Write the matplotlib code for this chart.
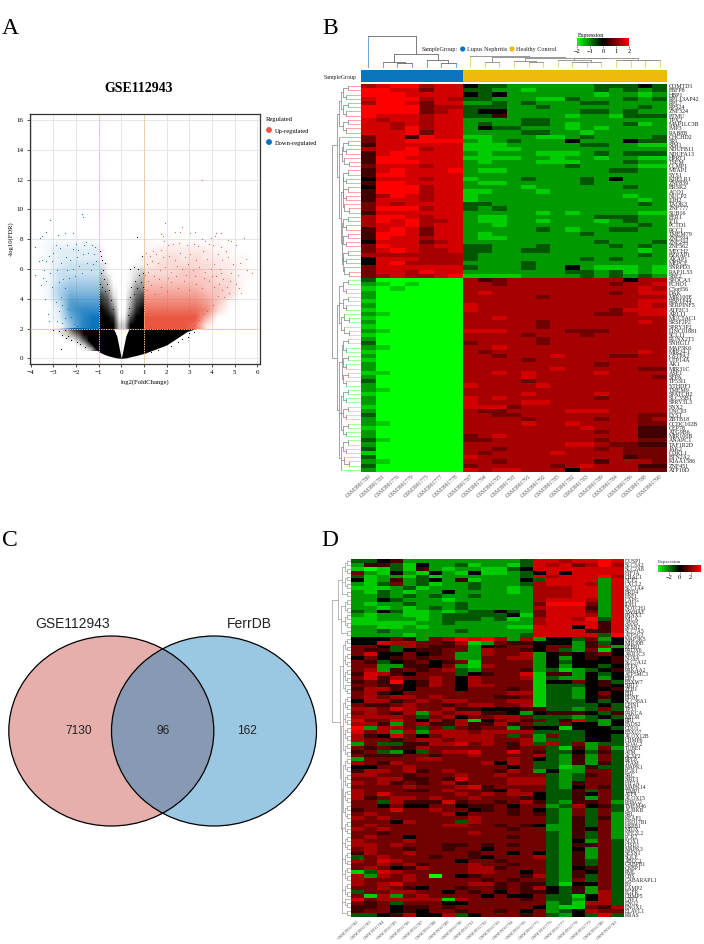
# -*- coding: utf-8 -*-
"""Four panel figure: volcano plot, two expression heatmaps and a Venn diagram."""
import matplotlib
matplotlib.use("Agg")
import matplotlib.pyplot as plt
import numpy as np
from matplotlib.colors import LinearSegmentedColormap, to_rgb
from matplotlib.patches import Ellipse

W, H = 704, 944
SERIF = "Liberation Serif"
SANS = "Liberation Sans"
RED = "#EA5640"
BLUE = "#0A74BC"
YELLOW = "#EEBB0C"

plt.rcParams["font.family"] = SERIF

# ---------------------------------------------------------------- volcano data
# solid black core of the V: x, lower edge, upper edge
black_left_x = [-1.5, -1.0, -0.8, -0.6, -0.4, -0.2, 0.0]
black_left_lo = [1.25, 0.45, 0.3, 0.18, 0.1, 0.03, 0.0]
black_left_hi = [2.0, 2.5, 2.5, 2.4, 2.2, 1.5, 0.0]
black_right_x = [0.0, 0.2, 0.4, 0.6, 0.8, 1.0, 1.01, 2.0, 2.9, 3.3]
black_right_lo = [0.0, 0.03, 0.1, 0.17, 0.25, 0.33, 0.33, 0.9, 1.8, 2.0]
black_right_hi = [0.0, 1.5, 2.2, 2.4, 2.5, 2.5, 2.0, 2.0, 2.0, 2.0]

# how crowded each part of the cloud looks, 0 empty to 9 solid, top row first
up_density = [  # x 1 to 6, y 9 to 2, half unit cells
    "0000000000", "0000000000", "1011101000", "1222221100", "2232322110",
    "2333332210", "3334433211", "4444443310", "5555544310", "6666654300",
    "7777764100", "8888873000", "9999950000", "9999820000",
]
down_density = [  # x -4 to -1, y 9 to 2
    "000000", "000000", "011111", "012222", "012222", "012333", "013333",
    "013444", "014555", "014666", "003777", "002788", "002689", "000589",
]
arm_density = [  # x -1 to 1, y 8 to 2, quarter and half unit cells
    "00000000", "10000000", "10000001", "21000011", "31000123", "43000134",
    "54100255", "76200367", "87400478", "98600589", "99811799", "99933999",
]
wing_density = [  # x -3 to -1, y 2 to 0.5, quarter unit cells
    "12478999", "02357999", "00235899", "00113699", "00001379", "00000138",
]

# single points that stand out of the cloud
up_points = [
    (3.54, 11.97), (1.93, 9.1), (2.7, 8.8), (1.73, 8.35), (1.85, 8.2), (2.35, 8.5), (2.6, 8.45),
    (3.05, 8.4), (3.25, 8.5), (3.95, 8.1), (4.2, 8.4), (4.4, 8.4), (4.15, 8.2), (5.4, 8.1),
    (4.7, 7.95), (4.85, 7.9), (3.55, 8.0), (3.7, 7.9), (1.9, 7.9), (2.05, 7.6), (2.3, 7.7),
    (2.55, 7.75), (2.9, 7.6), (3.2, 7.7), (3.4, 7.55), (3.85, 7.7), (4.05, 7.6), (4.4, 7.5),
    (4.6, 7.2), (5.05, 7.6), (5.5, 6.7), (5.25, 6.4), (5.55, 5.9), (5.75, 5.7), (5.15, 5.6),
    (5.05, 5.0), (5.2, 4.7), (5.3, 4.4), (4.8, 5.2), (4.85, 5.7), (4.95, 6.3), (4.7, 6.8),
    (4.45, 6.6), (4.25, 7.0), (1.1, 7.1), (1.25, 6.9), (1.4, 7.2), (1.55, 7.0), (1.75, 7.3),
    (1.15, 6.3), (1.35, 6.5), (1.6, 6.4), (1.85, 6.8), (2.1, 6.9), (2.35, 6.6), (2.6, 7.1),
    (2.8, 6.8), (3.05, 7.0), (3.3, 6.6), (3.6, 7.2), (3.8, 6.7), (4.1, 6.3), (4.35, 6.0),
    (1.05, 5.6), (1.2, 5.8), (1.45, 5.5), (1.7, 5.9), (1.95, 6.1), (2.2, 5.8), (2.45, 6.2),
    (2.7, 6.0), (2.95, 6.3), (3.15, 5.9), (3.45, 6.1), (3.7, 5.8), (3.95, 6.0), (4.2, 5.5),
    (4.5, 5.3), (4.65, 4.8), (4.45, 4.6), (4.25, 4.2), (4.55, 4.1), (4.05, 3.6), (3.8, 3.2),
    (4.75, 4.4), (3.45, 2.6), (3.2, 2.25), (3.35, 2.9), (3.6, 3.0), (1.12, 4.6), (1.3, 4.9),
    (1.5, 4.3), (1.75, 4.8), (2.0, 4.5), (2.2, 5.1), (2.5, 4.7), (2.75, 5.2), (3.0, 4.6),
    (3.3, 5.0), (3.55, 4.7), (3.85, 5.2), (4.1, 4.8), (1.2, 5.2), (1.65, 5.3), (2.05, 5.4),
    (2.4, 5.5), (2.85, 5.6), (3.25, 5.5), (3.65, 5.4), (4.0, 5.5), (4.3, 5.0), (4.4, 5.7),
]
down_points = [
    (-3.15, 9.3), (-1.75, 9.7), (-1.7, 9.5), (-3.3, 8.5), (-3.5, 8.2), (-3.6, 8.1), (-2.5, 8.4),
    (-2.8, 8.3), (-2.15, 8.4), (-3.8, 7.5), (-2.9, 7.6), (-2.7, 7.4), (-2.4, 7.6), (-2.0, 7.7),
    (-1.55, 7.8), (-1.65, 7.6), (-1.3, 7.6), (-1.15, 7.5), (-1.9, 7.3), (-2.15, 7.35), (-3.0, 7.1),
    (-3.2, 6.9), (-3.5, 6.6), (-3.65, 6.5), (-3.3, 6.5), (-3.05, 6.5), (-3.8, 5.6), (-3.4, 5.9),
    (-3.45, 5.4), (-3.15, 5.7), (-3.3, 5.2), (-3.55, 4.9), (-3.05, 4.8), (-3.35, 4.0), (-3.25, 3.0),
    (-3.2, 2.5), (-2.85, 2.5), (-2.6, 2.35), (-2.5, 2.7), (-2.75, 3.2), (-2.9, 3.8), (-2.65, 4.1),
    (-2.75, 5.1), (-2.85, 5.9), (-2.65, 6.4), (-2.45, 6.8), (-2.25, 6.6), (-1.95, 6.8), (-1.7, 7.0),
    (-1.45, 7.1), (-1.2, 7.0), (-2.4, 5.9), (-2.15, 6.0), (-1.85, 6.2), (-1.5, 6.4), (-1.25, 6.3),
    (-2.55, 5.3), (-2.5, 4.7), (-2.6, 3.6), (-2.35, 3.3), (-2.2, 2.8), (-2.1, 2.3), (-1.95, 2.15),
    (-2.3, 5.4), (-2.05, 5.5), (-1.75, 5.7), (-1.35, 5.9), (-1.1, 6.5),
]
ns_points = [
    (0.7, 8.15), (0.9, 6.9), (-0.95, 7.2), (-0.9, 6.9), (-0.85, 6.6), (-0.8, 5.9), (-0.72, 6.4),
    (-0.9, 5.7), (-0.75, 5.3), (-0.65, 5.0), (-0.95, 5.0), (-0.85, 4.8), (-0.55, 4.6), (-0.7, 4.5),
    (-0.45, 3.9), (-0.35, 3.3), (0.4, 6.0), (0.55, 6.1), (0.72, 6.0), (0.8, 5.6), (0.95, 5.7),
    (0.6, 5.2), (0.85, 5.1), (0.45, 4.8), (0.7, 4.7), (0.95, 4.8), (0.4, 4.1), (0.55, 4.3),
    (0.35, 3.4), (0.3, 2.9), (-2.6, 1.6), (-2.75, 1.85), (-2.5, 1.9), (-2.35, 1.5), (-2.2, 1.2),
    (-2.45, 1.35), (-2.65, 0.65), (-1.95, 1.1), (-1.8, 0.95), (-1.6, 0.75), (-3.0, 1.9), (2.95, 1.4),
    (3.0, 1.7), (3.2, 1.8), (3.1, 1.95), (2.2, 0.85), (2.5, 1.1), (2.7, 1.3), (1.6, 0.55), (1.3, 0.45),
]
volcano_xticks = [-4, -3, -2, -1, 0, 1, 2, 3, 4, 5, 6]
volcano_yticks = [0, 2, 4, 6, 8, 10, 12, 14, 16]

# ---------------------------------------------------------------- heatmap B
# one digit per cell, see LEVELS
LEVELS = [-2.0, -1.6, -1.2, -0.7, 0.0, 0.5, 0.9, 1.3, 1.65, 2.0]

b_rows = [
    "7899788 4332222 2233343", "9988688 3322122 2232323", "9998888 4342222 2212212",
    "8999787 3322211 3222323", "7998688 2232322 2332222", "9999677 3332232 2222232",
    "9999678 3442222 2332322", "9888788 3352222 1221333", "8788788 2222332 2222222",
    "8878788 2322332 1222312", "8879788 2433222 1212222", "8889688 2222332 2122222",
    "6885988 1122211 2322223", "6889999 2123222 4222433", "5888888 1112222 2332211",
    "7889788 1111222 2222222", "5899888 2122211 1232333", "5998888 1111221 2212211",
    "5999888 2122211 1222322", "6888788 2222222 3222211", "5898889 2112222 2223322",
    "5998888 2222222 2222222", "4888788 1222322 2324222", "5998888 2112222 2322222",
    "4999788 2222122 2222322", "5999788 1122212 2222222", "5798788 1222222 2222122",
    "5888788 1222222 2222212", "6878888 3322222 2222232", "6999788 3232222 2222222",
    "5888888 2222212 1222211", "7998788 2112222 2233322", "7989778 2112212 2212322",
    "7889788 2212222 2222232", "5898688 2222232 1223322", "5998688 2122222 2322222",
    "5988788 2112222 2222222", "4888678 2222222 2232223", "6988788 3322232 2223232",
    "6898778 3322332 2222212", "7777777 3222222 2222232", "4888777 3222222 2323222",
    "4897777 2222322 2222222", "6888888 3222322 4211121", "6887988 2222222 3323121",
    "6787789 1111222 2323232",
    "3000000 7567777 7777477", "2101000 7767777 7776778", "1010000 7777777 7777787",
    "2000000 7877777 7776788", "2000000 7777767 7777777", "1000000 7777777 7777788",
    "2000000 8777777 7777787", "1000000 8777777 7776888", "2100000 7777777 7766788",
    "1000000 7787777 7777777", "2000000 7777767 7777787", "1000000 7777767 7777777",
    "2100000 8887777 6667777", "1000000 7777677 7677777", "2000000 7777767 7777777",
    "3000000 6777767 7777777", "2100000 7787777 7777777", "1000000 7677777 7777787",
    "2000000 7767778 7776677", "1000000 7777677 7777777", "2000000 7777777 7767777",
    "2000000 7777778 7777766", "1100000 7787877 7787777", "2000000 7777877 7777776",
    "3000000 7777677 7777777", "2000000 8777787 7777777", "2100000 7777777 7777777",
    "1000000 7777877 7787777", "2000000 8787777 7767777", "2000000 8777887 7777777",
    "1000000 8886777 7777777", "2000000 7667777 8887777", "3000000 7766777 7777766",
    "2000000 7777677 7767767", "2100000 7777877 8777766", "1000000 7777777 7877755",
    "2000000 7777777 7767755", "2000000 6787777 7777755", "3100000 6677777 7767766",
    "2000000 7777777 8876655", "3000000 7767777 7767666", "1000000 7677778 7777666",
    "3000000 8777777 7777566", "2100000 7767777 7757776", "3000000 6777776 7877755",
    "2000000 8788777 4777766",
]
b_samples = ["GSM3991780", "GSM3991781", "GSM3991776", "GSM3991779", "GSM3991775", "GSM3991777",
             "GSM3991778", "GSM3991787", "GSM3991794", "GSM3991795", "GSM3991793", "GSM3991791",
             "GSM3991792", "GSM3991785", "GSM3991782", "GSM3991783", "GSM3991789", "GSM3991784",
             "GSM3991786", "GSM3991788", "GSM3991790"]
b_genes = ["COMTD1", "FBFP8", "HBP1", "RPL13AP42", "RPL7", "RPS24", "ZNF324", "PTMU", "TPX2",
           "MAP1LC3B", "IMP3", "RAB8B", "CHCHD2", "SRL", "SIM1", "NDUFB11", "NDUFA13", "HPRT1",
           "TSEM", "CLMP1", "MTAP1", "SYS1", "KDELR1", "ZNF839", "BRSK2", "ACO1", "NUCP2", "IDH2",
           "TAOK3", "ZNF777", "SUB16", "FER1", "IFI1", "PCTD1", "RCC1", "TMEM79", "ZNF594",
           "ZNF244", "ZNF562", "MTCH2", "BZRAP1", "AKAP1", "MEPCE", "SNRPD3", "RAP1L53", "SBE2",
           "SPOCA3", "FCHO1", "C5orf56", "DAK", "MIR100E", "RBP1P44", "SERPINF5", "ATP2C1",
           "ARL11", "MUC5AC1", "SRSF2P2", "SPRY3P2", "LINC01881", "SCL11", "RUNX2T1", "SNHG1J",
           "MAP3K6", "MIR24-1", "GSTPA2", "UTP14A", "AK1", "MIR31C", "ASE1", "SFPA", "TP53I1",
           "YTHDF1", "TMEM9", "SPATCH2", "SLC35B1", "SPRY3L3", "SNX2", "UNC93", "LYST", "ZBTB18",
           "CCDC102B", "CEP78", "ATG9B6", "MIR100B", "ANAPC1", "TAF1R2D", "JAK2", "CDKL1",
           "BTN2A2", "KIAA1586", "ZNF451", "ATP10D"]

# ---------------------------------------------------------------- heatmap D
d_rows = [
    "3345222 2222223 8878898", "2553142 2312213 8786797", "1013152 1221134 8888888",
    "6214214 2141123 4848888", "3122131 2222223 8788897", "4125234 2512224 3888828",
    "2136231 2232223 7888728", "1112312 2232212 7778828", "2132122 4222212 7778828",
    "2232323 2232222 7778828", "2243222 1222222 7888728", "2122322 2322222 6999628",
    "2212123 2322222 7888528", "3243112 1233432 6888628", "2122112 3333341 6888728",
    "1122212 3332312 7887938", "1111122 3222222 7888858", "2211212 2222211 8884858",
    "2232222 2322222 8888558", "2222122 2222223 8888839",
    "4446526 7989727 2443624", "4487766 5712655 4442534", "6643765 5624566 4662572",
    "6553455 6627665 4632614", "6844645 6227667 2454564", "4645656 6226677 2424545",
    "6534564 5616666 2434445", "6622554 6217666 2424434", "6725656 7326665 2312345",
    "5875466 6345668 1552434", "6857667 6476667 1322424", "5659457 6476666 1446453",
    "6655457 6477666 1333454", "5775466 6466656 1332445", "6754666 6666677 1332464",
    "6767767 6666556 1332454", "4775676 7766677 1333434", "6556766 5677667 1333343",
    "7768766 7554445 5332363", "6765727 6775542 4555435", "7777636 7466776 3332343",
    "8668647 5714675 6358324", "7752675 5755756 3364424", "9277636 3656625 4414443",
    "8672727 7767777 3333444", "7548646 7777636 2633443", "7665677 6777667 2333443",
    "2633557 7867657 3736233", "6565576 6666656 6315262", "5632436 7786686 5334353",
    "6555665 6676666 7325263", "2666677 6666676 4325263", "7657666 6667476 3325253",
    "4466766 6666646 3312533", "5776756 7666576 2422663", "7766566 6766766 6323563",
    "6677556 5866677 7323663", "7675656 7566677 7325663", "6666766 6785666 6324653",
    "7666556 7665476 6335363", "7686666 6767677 4335463", "7567767 6676665 4335263",
    "6637555 8566567 5325562", "6646446 6455646 6237453", "5668667 6645656 4326363",
    "6766666 7466656 5326362", "7676666 6676666 6325352", "6664766 6376666 6325362",
    "6766666 7766565 4225362", "7676666 6666656 6225462", "6656666 6676666 6325362",
    "6766466 6666656 6325362", "7666766 6666666 6324263", "7767666 5565656 6325563",
    "6766566 5664666 6324263", "5766766 6656646 4325263", "3676665 6654666 7325263",
    "7687666 6466566 6325363", "6676756 6676656 6325363", "6764576 6677566 6324563",
    "1387666 6677664 6325463", "7276760 6456665 7325363", "7666766 6665656 6326363",
    "7678666 6677565 5314463", "6676546 6566565 7435263", "3667766 4656465 5435273",
    "6172676 6664644 6331473", "8677777 1766665 6332473", "6563666 4466666 6231773",
    "5564556 5666666 4211657", "5664546 6566564 6234766", "3345744 7346665 6324383",
]
d_samples = ["GSM3991782", "GSM3991783", "GSM3991784", "GSM3991785", "GSM3991786", "GSM3991787",
             "GSM3991788", "GSM3991789", "GSM3991790", "GSM3991791", "GSM3991792", "GSM3991793",
             "GSM3991794", "GSM3991795", "GSM3991775", "GSM3991776", "GSM3991777", "GSM3991778",
             "GSM3991779", "GSM3991780", "GSM3991781"]
d_genes = ["DUSP1", "SLC3A2", "SLC2A8", "HIF1A", "CHAC1", "NCF2", "CXCL2", "SLC1A4", "BRD4", "HSF1",
           "CAPG", "IDH1", "NOTCH1", "YWHAE", "PANX1", "MICA", "ASNS", "SESN2", "SLC7A5", "ATP5G3",
           "MAP3K5", "MIR30B", "PTBP1", "PRDX6", "AKR1C3", "NOX4", "SLC7A12", "PTEN", "PRKAA2",
           "ATP5MC3", "EIF1", "FBXW7", "SIRT1", "ZEB1", "BID", "BDNF", "SLC38A1", "LPIN1", "TP53",
           "PRKCA", "MTOR", "RB1", "FADS2", "CDO1", "FBXO7", "ALOX12B",
           "CHMP6", "VDAC2", "TUBE1", "ATM", "ACSF2", "RPL8", "TFAM", "MAPK1", "PGK1",
           "SRC", "SIRT3", "HIF2A", "MAPK14", "TIMP1", "ATF4", "ALOX15", "PHKG2",
           "TMEM46", "AURKB", "SRL", "KEAP1", "HSD17B1", "HSPB1", "MIOX", "NFE2L2", "PCK2",
           "NOX1", "CISD1", "MAPK3", "SESN1", "SQLE", "ABCC1", "GABPB1", "OSBP1", "PML", "CBS",
           "GABARAPL1", "FH", "LAMP2", "EGFR", "CHMP5", "CAV1", "ENO2", "ENOX1", "ELAVL1", "KRAS"]

venn_names = ["GSE112943", "FerrDB"]
venn_counts = [7130, 96, 162]

CMAP = LinearSegmentedColormap.from_list("gbr", ["#00FF00", "#000000", "#FF0000"])


# ---------------------------------------------------------------- helpers
def px_axes(fig, x0, y0, x1, y1):
    return fig.add_axes([x0 / W, 1 - y1 / H, (x1 - x0) / W, (y1 - y0) / H])


def px_text(fig, x, y, s, **kw):
    kw.setdefault("va", "center")
    return fig.text(x / W, 1 - y / H, s, **kw)


def to_matrix(rows):
    return np.array([[LEVELS[int(c)] for c in r.replace(" ", "")] for r in rows])


def draw_density(ax, rows, extent, color):
    cells = np.array([[int(c) for c in r] for r in rows]) / 9
    cmap = LinearSegmentedColormap.from_list("cloud", [(*to_rgb(color), 0), (*to_rgb(color), 1)])
    # sparse cells stay pale, the points on top carry them
    ax.imshow(cells ** 1.4, cmap=cmap, vmin=0, vmax=1, extent=extent, aspect="auto",
              interpolation="bilinear", zorder=2)


def walk(node, state, branches, bars):
    """Place a nested (height, child, child...) tree; 1 is a leaf."""
    if node == 1:
        state[0] += 1
        return state[0] - 1, 0.0, True
    height = node[0]
    kids = [walk(k, state, branches, bars) for k in node[1:]]
    for pos, kid_h, leaf in kids:
        branches.append((pos, kid_h, height, leaf))
    bars.append((kids[0][0], kids[-1][0], height))
    return (kids[0][0] + kids[-1][0]) / 2, height, False


def draw_tree(ax, tree, vertical=False, start=0, leaf_color=None, inner="#808080", lw=0.5):
    branches, bars = [], []
    walk(tree, [start], branches, bars)
    for pos, h0, h1, leaf in branches:
        color = inner
        if leaf and leaf_color is not None:
            color = leaf_color(pos)
        if vertical:
            ax.plot([pos, pos], [h0, h1], color=color, lw=lw, solid_capstyle="butt")
        else:
            ax.plot([h0, h1], [pos, pos], color=color, lw=lw, solid_capstyle="butt")
    for p0, p1, h in bars:
        if vertical:
            ax.plot([p0, p1], [h, h], color=inner, lw=lw)
        else:
            ax.plot([h, h], [p0, p1], color=inner, lw=lw)


def draw_heatmap(ax, rows, genes, samples, label_size, sample_size, vmin=-2, vmax=2):
    data = to_matrix(rows)
    ax.imshow(data, cmap=CMAP, vmin=vmin, vmax=vmax, aspect="auto", interpolation="nearest")
    ax.set_xticks(np.arange(len(samples)))
    ax.set_xticklabels(samples, rotation=42, ha="right", rotation_mode="anchor",
                       fontsize=sample_size, color="#555555")
    ax.yaxis.tick_right()
    ax.set_yticks(np.linspace(0, len(rows) - 1, len(genes)))
    ax.set_yticklabels(genes, fontsize=label_size, color="#222222")
    ax.tick_params(length=0, pad=1.5)
    for spine in ax.spines.values():
        spine.set_visible(False)


def draw_colorbar(fig, box, vmin, vmax, ticks):
    ax = px_axes(fig, *box)
    ax.imshow(np.linspace(vmin, vmax, 128)[None, :], cmap=CMAP, aspect="auto",
              extent=(vmin, vmax, 0, 1))
    ax.set_yticks([])
    ax.set_xticks(ticks)
    ax.set_xticklabels([str(t).replace("-", "\u2212") for t in ticks], fontsize=4.6)
    ax.tick_params(length=1.5, width=0.4, pad=0.8, color="#444444")
    for spine in ax.spines.values():
        spine.set_visible(False)


# ---------------------------------------------------------------- panels
def plot_volcano(fig):
    ax = px_axes(fig, 29.5, 114, 260, 364)
    ax.grid(True, color="#E6E6E6", lw=0.7, zorder=0)
    ax.set_axisbelow(True)

    ax.fill_between(black_left_x, black_left_lo, black_left_hi, color="black", lw=0, zorder=2)
    ax.fill_between(black_right_x, black_right_lo, black_right_hi, color="black", lw=0, zorder=2)
    draw_density(ax, wing_density, (-3, -1, 0.5, 2), "black")
    draw_density(ax, arm_density, (-1, 1, 2, 8), "black")
    draw_density(ax, up_density, (1, 6, 2, 9), RED)
    draw_density(ax, down_density, (-4, -1, 2, 9), BLUE)

    for pts, color in ((up_points, RED), (down_points, BLUE), (ns_points, "black")):
        xs, ys = np.array(pts).T
        ax.scatter(xs, ys, s=0.7, color=color, lw=0, zorder=3)

    for v in (-1, 1):
        ax.axvline(v, color="#F2C27A", lw=0.7, ls=(0, (1.5, 1)), zorder=4)
    ax.axhline(2, color="#F2C27A", lw=0.7, ls=(0, (1.5, 1)), zorder=4)

    ax.set_xlim(-4.05, 6.12)
    ax.set_ylim(-0.38, 16.4)
    ax.set_xticks(volcano_xticks)
    ax.set_yticks(volcano_yticks)
    ax.set_xticklabels([str(t).replace("-", "\u2212") for t in volcano_xticks])
    ax.tick_params(labelsize=5, length=2, width=0.6, pad=2.5, color="#333333")
    ax.set_xlabel("log2(FoldChange)", fontsize=4.8, labelpad=2.5)
    ax.set_ylabel("-log10(FDR)", fontsize=4.8, labelpad=1.5)
    for spine in ax.spines.values():
        spine.set_linewidth(0.9)
        spine.set_color("#333333")

    px_text(fig, 139, 88, "GSE112943", fontsize=10, fontweight="bold", ha="center")
    px_text(fig, 266, 119, "Regulated", fontsize=4.8, ha="left")
    legend_ax = px_axes(fig, 262, 124, 320, 148)
    legend_ax.set_xlim(262, 320)
    legend_ax.set_ylim(148, 124)
    legend_ax.axis("off")
    legend_ax.scatter([269, 269], [130, 142], s=18, color=[RED, BLUE], lw=0)
    px_text(fig, 275, 131, "Up-regulated", fontsize=4.7, ha="left")
    px_text(fig, 275, 143, "Down-regulated", fontsize=4.7, ha="left")


def plot_heatmap_b(fig):
    ax = px_axes(fig, 361, 84, 667, 472)
    draw_heatmap(ax, b_rows, b_genes, b_samples, 4.3, 4.1)

    bar = px_axes(fig, 361, 70, 667, 82)
    bar.axis("off")
    bar.set_xlim(-0.5, 20.5)
    bar.set_ylim(0, 1)
    bar.barh(0.5, 7, left=-0.5, height=1, color=BLUE)
    bar.barh(0.5, 14, left=6.5, height=1, color=YELLOW)
    px_text(fig, 324, 77, "SampleGroup", fontsize=4.2, ha="left", color="#222222")

    # row tree
    c = (0.62, (0.45, 1, 1), (0.5, 1, 1))
    b3 = (0.58, 1, (0.42, 1, 1))
    top = (0.84, (0.76, (0.7, c, c), c),
           (0.74, 1, (0.66, c, b3), (0.7, (0.62, c, c, b3), (0.64, c, c, (0.6, c, b3)))))
    bottom = (0.84, (0.76, c, c, (0.68, b3, b3)),
              (0.74, (0.66, c, c, c), (0.68, c, c, c), (0.7, c, b3, 1)))
    tree_ax = px_axes(fig, 332, 84, 360.5, 472)
    tree_ax.axis("off")
    tree_ax.set_xlim(1.0, 0)
    tree_ax.set_ylim(91.5, -0.5)
    draw_tree(tree_ax, (1.0, top, bottom),
              leaf_color=lambda p: "#FF7F7F" if p < 46 else "#7FFF7F")

    # column trees, one per group
    col_ax = px_axes(fig, 361, 36, 667, 68)
    col_ax.axis("off")
    col_ax.set_xlim(-0.5, 20.5)
    col_ax.set_ylim(0, 1)
    left_tree = (1.0, 1, (0.45, (0.2, 1, (0.17, 1, 1)), (0.24, 1, (0.17, 1, 1))))
    right_tree = (0.38, 1, (0.33, (0.2, 1, 1),
                            (0.32, (0.22, 1, (0.19, 1, 1)),
                             (0.3, (0.24, 1, (0.2, (0.19, 1, 1), 1)),
                              (0.26, (0.26, 1, 1), (0.24, 1, 1))))))
    draw_tree(col_ax, left_tree, vertical=True, start=0, inner="#666666",
              leaf_color=lambda p: "#4D9FD6", lw=0.6)
    draw_tree(col_ax, right_tree, vertical=True, start=7, inner="#888888",
              leaf_color=lambda p: "#F3CF66", lw=0.6)

    draw_colorbar(fig, (577, 38, 629, 46), -2, 2, [-2, -1, 0, 1, 2])
    px_text(fig, 578, 35, "Expression", fontsize=4.2, ha="left")
    px_text(fig, 422, 49.5, "SampleGroup:", fontsize=4.4, ha="left", color="#222222")
    px_text(fig, 467, 49.5, "Lupus Nephritis", fontsize=4.4, ha="left", color="#222222")
    px_text(fig, 516.5, 49.5, "Healthy Control", fontsize=4.4, ha="left", color="#222222")
    group_ax = px_axes(fig, 455, 44, 520, 55)
    group_ax.axis("off")
    group_ax.set_xlim(455, 520)
    group_ax.set_ylim(55, 44)
    group_ax.scatter([462.7, 512], [49, 49], s=14, color=[BLUE, YELLOW], lw=0)


def plot_venn(fig):
    ax = px_axes(fig, 0, 600, 320, 860)
    ax.set_xlim(0, 320)
    ax.set_ylim(860, 600)
    ax.axis("off")
    size = dict(width=205, height=190)
    left = (111.3, 731)
    right = (214, 731)
    ax.add_patch(Ellipse(left, facecolor="#E7AFAB", edgecolor="none", **size))
    ax.add_patch(Ellipse(right, facecolor="#9AC7E2", edgecolor="none", **size))
    overlap = Ellipse(right, facecolor="#8899B3", edgecolor="none", **size)
    ax.add_patch(overlap)
    overlap.set_clip_path(Ellipse(left, transform=ax.transData, **size))
    ax.add_patch(Ellipse(left, facecolor="none", edgecolor="black", lw=0.9, **size))
    ax.add_patch(Ellipse(right, facecolor="none", edgecolor="black", lw=0.9, **size))
    px_text(fig, 73, 624.5, venn_names[0], fontsize=10, family=SANS, ha="center", color="#222222")
    px_text(fig, 249, 624.5, venn_names[1], fontsize=10, family=SANS, ha="center", color="#222222")
    for x, n in zip((79, 163, 247), venn_counts):
        px_text(fig, x, 731.5, str(n), fontsize=8.6, family=SANS, ha="center", color="#222222")


def plot_heatmap_d(fig):
    ax = px_axes(fig, 350.7, 559, 622.7, 917)
    draw_heatmap(ax, d_rows, d_genes, d_samples, 4.0, 3.5)

    d = (0.2, 1, 1)
    e = (0.28, d, d)
    f = (0.32, 1, d)
    top = (0.7, (0.45, e, e, d), (0.5, e, e, d))
    mid = (0.55, (0.42, e, e, e, f),
           (0.5, (0.4, e, e, e, e),
            (0.48, (0.38, e, e, e, e), (0.45, e, e, e, e, e, f, d))))
    tree_ax = px_axes(fig, 332, 559, 350.5, 917)
    tree_ax.axis("off")
    tree_ax.set_xlim(1.0, 0)
    tree_ax.set_ylim(91.5, -0.5)
    draw_tree(tree_ax, (1.0, top, mid), inner="#909090", lw=0.45)

    draw_colorbar(fig, (657.7, 564.7, 700, 572.3), -4, 3.7, [-2, 0, 2])
    px_text(fig, 658, 562, "Expression", fontsize=3.8, ha="left", color="#333333")


def main():
    fig = plt.figure(figsize=(W / 100, H / 100), dpi=100, facecolor="white")
    plot_volcano(fig)
    plot_heatmap_b(fig)
    plot_venn(fig)
    plot_heatmap_d(fig)
    for letter, x, y in (("A", 10, 28), ("B", 330, 28), ("C", 10, 540), ("D", 330, 540)):
        px_text(fig, x, y, letter, fontsize=17, ha="center")
    fig.savefig("out.png", dpi=100)


if __name__ == "__main__":
    main()
